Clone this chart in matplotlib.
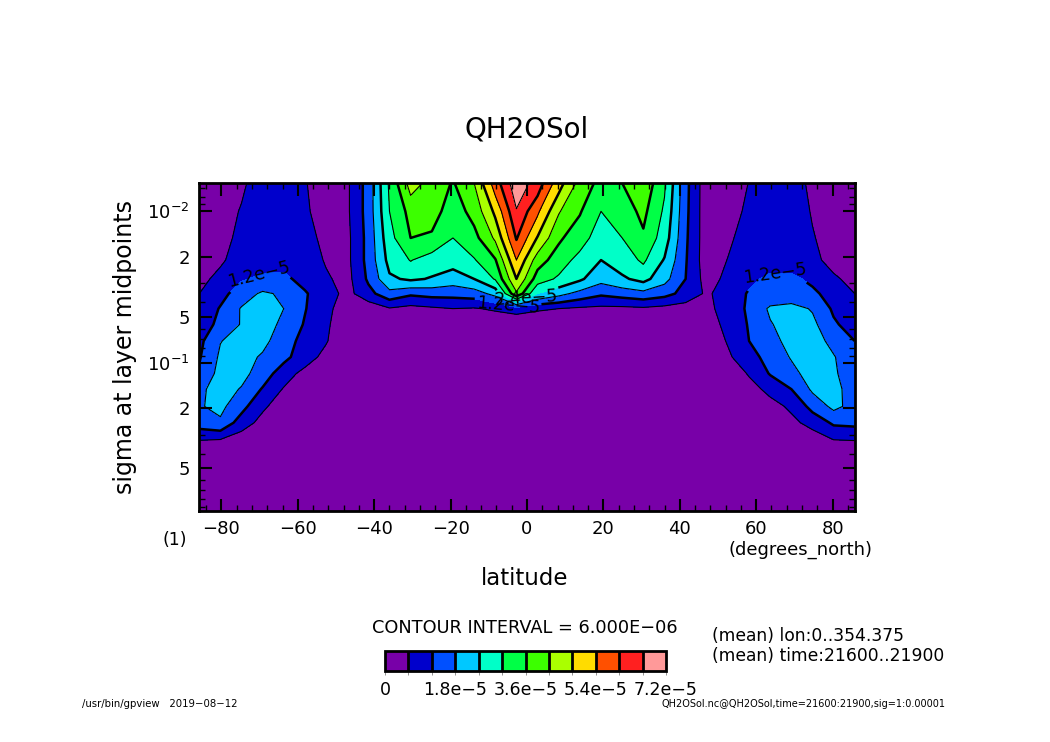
import numpy as np
import matplotlib
matplotlib.use("Agg")
import matplotlib.pyplot as plt
from matplotlib.colors import ListedColormap, BoundaryNorm
from matplotlib.ticker import FixedLocator, MultipleLocator

plt.rcParams['font.family'] = ['DejaVu Sans']

# Gaussian latitudes (degrees_north) and sigma layer midpoints
lat = [-85.76, -80.27, -74.74, -69.21, -63.68, -58.14, -52.61, -47.07,
       -41.53, -36.00, -30.46, -24.92, -19.38, -13.84, -8.31, -2.77,
       2.77, 8.31, 13.84, 19.38, 24.92, 30.46, 36.00, 41.53,
       47.07, 52.61, 58.14, 63.68, 69.21, 74.74, 80.27, 85.76]
sig = [0.0065, 0.010, 0.015, 0.021, 0.028, 0.035, 0.044, 0.056, 0.072, 0.092,
       0.118, 0.150, 0.195, 0.250, 0.320, 0.410, 0.540, 0.700, 0.955]

# zonal/time mean QH2OSol, units of 1e-6 (rows: sig, cols: lat)
qh2o = [
    [0, 2, 5, 9, 9, 6.5, 2, 5, 14.5, 31, 44.5, 40, 35.5, 42, 57, 70,
     63.3, 50.5, 40, 34, 36, 40.5, 30.8, 13.8, 2.3, 2, 6.2, 9, 9, 4.5, 1.5, 0.5],
    [0.5, 3, 6.5, 10, 10, 7, 3, 5, 14.5, 30, 38, 38.5, 33, 38, 49.3, 65.5,
     55.1, 42.5, 36.5, 30, 33, 37.5, 29, 13.5, 2.3, 3, 7.5, 9.5, 9.5, 5.5, 2, 1],
    [1, 4, 7.5, 11, 11, 8, 4.5, 4.5, 14, 28, 36, 35, 30, 34, 43, 60.5,
     47.5, 37, 32.5, 27, 30, 35, 27, 13, 2.5, 5, 8.5, 9.5, 10, 6.5, 3, 1.5],
    [2, 5, 9, 10, 10.5, 9, 5.5, 4.5, 14, 26, 30.3, 27, 26.5, 29.5, 35.5, 54,
     38.8, 33, 28, 24, 27, 31, 23.5, 12.5, 2.5, 6.2, 9, 10, 10, 7.5, 4, 2.5],
    [4, 8, 11.5, 13, 13, 10.5, 6.8, 4, 13, 23, 25, 23.5, 21, 24, 30.5, 48,
     33, 29, 25, 20, 23, 26, 20, 12, 3.5, 7.5, 11, 13, 13, 11, 7, 4],
    [6, 10, 15, 19, 17, 12.5, 9, 4, 10, 16, 13, 14, 14, 15, 20, 41,
     24, 20, 16, 13, 14.5, 16, 14, 10, 5, 9, 12.5, 14, 14.5, 13, 10, 6],
    [7, 12.5, 18.5, 21, 18, 12.3, 8, 2, 2, 5.5, 4, 5, 6, 5.5, 7, 9,
     7, 6, 5, 4.5, 4.5, 5, 4, 3, 4.5, 8.5, 13, 19, 20, 17.5, 11, 8],
    [10, 13, 18.5, 21, 16.5, 11.5, 7, 2, 0.5, 0, 0, 0, 0, 0, 0, 0,
     0, 0, 0, 0, 0, 0, 0, 0.5, 3.5, 7.5, 12.5, 17.5, 21, 19.5, 13, 9],
    [10.5, 17.8, 20, 20, 14, 10.5, 6.5, 1, 0, 0, 0, 0, 0, 0, 0, 0,
     0, 0, 0, 0, 0, 0, 0, 0, 2, 6.5, 12, 15, 21, 21, 16, 12],
    [11.5, 19, 21, 17, 13.5, 9, 4, 0.5, 0, 0, 0, 0, 0, 0, 0, 0,
     0, 0, 0, 0, 0, 0, 0, 0, 1, 5, 10, 14, 18.5, 21.5, 18.5, 13],
    [13, 20, 20, 15, 9, 4, 2, 0, 0, 0, 0, 0, 0, 0, 0, 0,
     0, 0, 0, 0, 0, 0, 0, 0, 0.5, 2.5, 6.5, 12.5, 16, 21, 19, 14],
    [16.5, 21, 17.5, 11.5, 5.5, 2, 1, 0, 0, 0, 0, 0, 0, 0, 0, 0,
     0, 0, 0, 0, 0, 0, 0, 0, 0, 1, 4, 7.5, 12, 19, 20, 15],
    [17.5, 19.5, 14, 7, 3, 1, 0, 0, 0, 0, 0, 0, 0, 0, 0, 0,
     0, 0, 0, 0, 0, 0, 0, 0, 0, 0.5, 2, 4, 7, 14, 19.5, 16],
    [15, 17, 9, 4, 1.5, 0.5, 0, 0, 0, 0, 0, 0, 0, 0, 0, 0,
     0, 0, 0, 0, 0, 0, 0, 0, 0, 0, 1, 2, 4.5, 8, 13, 13.5],
    [6.5, 6.2, 3, 1, 0.5, 0, 0, 0, 0, 0, 0, 0, 0, 0, 0, 0,
     0, 0, 0, 0, 0, 0, 0, 0, 0, 0, 0.5, 1, 2, 3, 6.3, 6.6],
    [0, 0, 0, 0, 0, 0, 0, 0, 0, 0, 0, 0, 0, 0, 0, 0,
     0, 0, 0, 0, 0, 0, 0, 0, 0, 0, 0, 0, 0, 0, 0, 0],
    [0, 0, 0, 0, 0, 0, 0, 0, 0, 0, 0, 0, 0, 0, 0, 0,
     0, 0, 0, 0, 0, 0, 0, 0, 0, 0, 0, 0, 0, 0, 0, 0],
    [0, 0, 0, 0, 0, 0, 0, 0, 0, 0, 0, 0, 0, 0, 0, 0,
     0, 0, 0, 0, 0, 0, 0, 0, 0, 0, 0, 0, 0, 0, 0, 0],
    [0, 0, 0, 0, 0, 0, 0, 0, 0, 0, 0, 0, 0, 0, 0, 0,
     0, 0, 0, 0, 0, 0, 0, 0, 0, 0, 0, 0, 0, 0, 0, 0],
]

interval = 6.0e-6
n_levels = 12
colors = ['#7800a8', '#0000cc', '#0050ff', '#00c8ff', '#00ffc8', '#00ff46',
          '#3cff00', '#aaff00', '#ffdc00', '#ff5000', '#ff2020', '#ff9999']
cbar_ticks = [0, 1.8e-5, 3.6e-5, 5.4e-5, 7.2e-5]
cbar_labels = ['0', '1.8e-5', '3.6e-5', '5.4e-5', '7.2e-5']

z = np.array(qh2o) * 1e-6
levels = interval * np.arange(n_levels + 1)
cmap = ListedColormap(colors)
norm = BoundaryNorm(levels, cmap.N)

fig = plt.figure(figsize=(10.5, 7.42), dpi=100)
ax = fig.add_axes([0.1899, 0.3117, 0.6240, 0.4416])

ax.set_yscale('log')
ax.set_xlim(lat[0], lat[-1])
ax.set_ylim(sig[-1], sig[0])

cf = ax.contourf(lat, sig, z, levels=levels, cmap=cmap, norm=norm)
# thin lines at odd multiples of the interval, thick (labelled) at even ones
ax.contour(lat, sig, z, levels=levels[1:-1:2], colors='k', linewidths=0.8)
cs = ax.contour(lat, sig, z, levels=levels[2:-1:2], colors='k', linewidths=1.8)


def fmt(v):
    m, e = f"{v:.1e}".split('e')
    return f"{m}e{int(e)}".replace('-', '\u2212')


ax.clabel(cs, fmt=fmt, fontsize=12.5, inline=True, inline_spacing=2,
          manual=[(-69.5, 0.029), (65, 0.031), (-0.5, 0.036), (-5, 0.042)])

ax.xaxis.set_major_locator(MultipleLocator(20))
ax.xaxis.set_minor_locator(MultipleLocator(4))
ax.yaxis.set_major_locator(FixedLocator([0.01, 0.02, 0.05, 0.1, 0.2, 0.5]))
ax.yaxis.set_minor_locator(FixedLocator([0.007, 0.008, 0.009, 0.03, 0.04, 0.06,
                                         0.07, 0.08, 0.09, 0.3, 0.4, 0.6, 0.7,
                                         0.8, 0.9]))
ax.set_yticklabels(['$10^{-2}$', '2', '5', '$10^{-1}$', '2', '5'])
ax.yaxis.set_minor_formatter(plt.NullFormatter())
ax.tick_params(which='both', direction='in', top=True, right=True,
               labelsize=13)
ax.tick_params(which='major', length=9, width=1.5, pad=7)
ax.tick_params(which='minor', length=4.5, width=1)
for s in ax.spines.values():
    s.set_linewidth(2)

fig.text(0.502, 0.825, 'QH2OSol', ha='center', va='center', fontsize=20)
fig.text(0.119, 0.532, 'sigma at layer midpoints', rotation=90,
         ha='center', va='center', fontsize=17)
fig.text(0.5, 0.221, 'latitude', ha='center', va='center', fontsize=16.5)
fig.text(0.1667, 0.2722, '(1)', ha='center', va='center', fontsize=12.5)
fig.text(0.8305, 0.2588, '(degrees_north)', ha='right', va='center',
         fontsize=13)
fig.text(0.5, 0.1536, 'CONTOUR INTERVAL = 6.000E\u221206', ha='center',
         va='center', fontsize=12.8)
fig.text(0.678, 0.1429, '(mean) lon:0..354.375', ha='left', va='center',
         fontsize=12.3)
fig.text(0.678, 0.1159, '(mean) time:21600..21900', ha='left', va='center',
         fontsize=12.3)
fig.text(0.078, 0.0512, '/usr/bin/gpview   2019\u221208\u221212', ha='left',
         va='center', fontsize=7.3)
fig.text(0.9, 0.0512, 'QH2OSol.nc@QH2OSol,time=21600:21900,sig=1:0.00001',
         ha='right', va='center', fontsize=7)

cax = fig.add_axes([0.3667, 0.0957, 0.2676, 0.027])
cb = fig.colorbar(cf, cax=cax, orientation='horizontal', drawedges=True,
                  ticks=cbar_ticks)
cb.ax.set_xticklabels([t.replace('-', '\u2212') for t in cbar_labels])
cb.ax.xaxis.set_minor_locator(FixedLocator(levels))
cb.outline.set_linewidth(2)
cb.dividers.set_linewidth(2)
cb.ax.tick_params(which='both', length=3, width=0.6, color='0.5',
                  labelsize=12.5, pad=4)

fig.savefig('out.png', dpi=100)
